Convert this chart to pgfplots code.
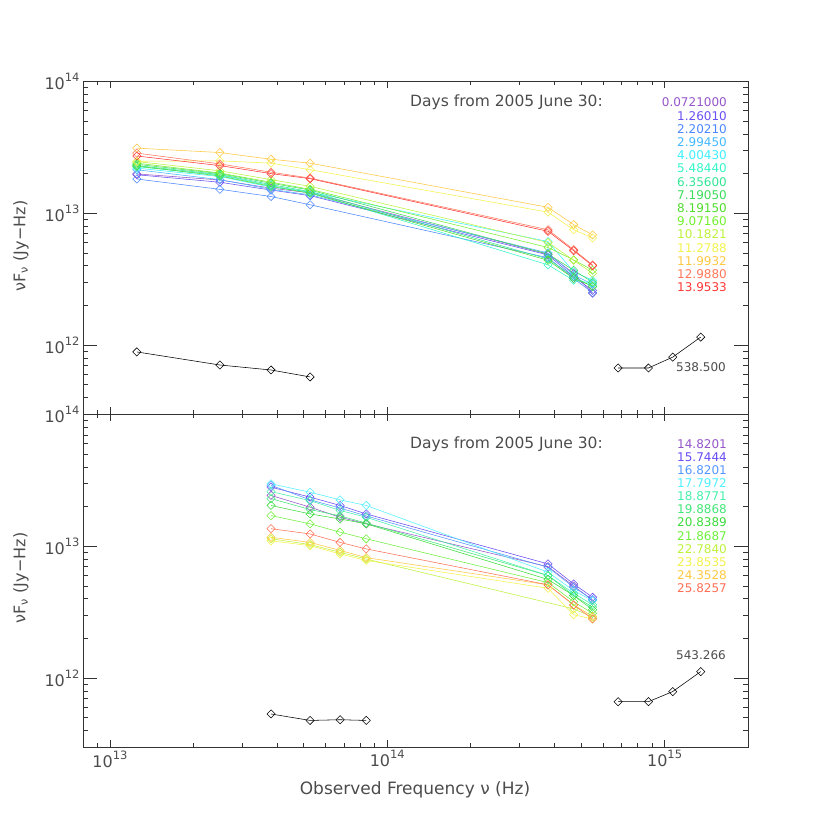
\documentclass[border=0pt]{standalone}
\usepackage{fontspec}
\setmainfont{DejaVu Sans}
\usepackage{pgfplots}
\pgfplotsset{compat=1.18}
\usepackage{graphicx}

\definecolor{c0}{RGB}{150,85,200}
\definecolor{c1}{RGB}{105,80,245}
\definecolor{c2}{RGB}{75,135,255}
\definecolor{c3}{RGB}{70,185,255}
\definecolor{c4}{RGB}{60,240,255}
\definecolor{c5}{RGB}{50,245,200}
\definecolor{c6}{RGB}{50,230,150}
\definecolor{c7}{RGB}{60,220,90}
\definecolor{c8}{RGB}{80,220,45}
\definecolor{c9}{RGB}{115,240,45}
\definecolor{c10}{RGB}{190,242,60}
\definecolor{c11}{RGB}{242,242,75}
\definecolor{c12}{RGB}{255,200,65}
\definecolor{c13}{RGB}{255,120,90}
\definecolor{c14}{RGB}{255,55,55}

\definecolor{d0}{RGB}{150,85,200}
\definecolor{d1}{RGB}{105,75,245}
\definecolor{d2}{RGB}{85,150,255}
\definecolor{d3}{RGB}{80,240,255}
\definecolor{d4}{RGB}{70,240,170}
\definecolor{d5}{RGB}{65,230,120}
\definecolor{d6}{RGB}{60,220,60}
\definecolor{d7}{RGB}{110,240,60}
\definecolor{d8}{RGB}{190,242,60}
\definecolor{d9}{RGB}{242,242,75}
\definecolor{d10}{RGB}{255,200,65}
\definecolor{d11}{RGB}{255,110,85}

\newcommand{\tp}[1]{10\raisebox{0.5em}{\fontsize{11.5}{12}\selectfont #1}}

\pgfplotsset{
  ser/.style={color=#1, line width=0.55pt, mark=square, mark size=2.9pt, mark options={rotate=45, solid}},
}

\begin{document}
\begin{tikzpicture}
\path[use as bounding box] (0pt,0pt) rectangle (830pt,830pt);

% ---------------- top panel ----------------
\begin{axis}[
    at={(83pt,416pt)}, anchor=south west,
    scale only axis, width=665pt, height=332.5pt,
    xmode=log, ymode=log,
    xmin=8e12, xmax=2e15, ymin=3e11, ymax=1e14,
    tick align=inside, major tick length=9pt, minor tick length=4.5pt,
    axis line style={black!80, line width=0.6pt},
    tick style={black!80, line width=0.6pt},
    xtick style={/pgfplots/major tick length=7pt, /pgfplots/minor tick length=3.5pt},
    ytick style={/pgfplots/major tick length=14pt, /pgfplots/minor tick length=5pt},
    xtick={1e13,1e14,1e15},
    xticklabels={},
    minor xtick={9e12,2e13,3e13,4e13,5e13,6e13,7e13,8e13,9e13,2e14,3e14,4e14,5e14,6e14,7e14,8e14,9e14,2e15},
    ytick={1e12,1e13,1e14},
    yticklabels={\tp{12},\tp{13},\tp{14}},
    minor ytick={4e11,5e11,6e11,7e11,8e11,9e11,2e12,3e12,4e12,5e12,6e12,7e12,8e12,9e12,2e13,3e13,4e13,5e13,6e13,7e13,8e13,9e13},
    ticklabel style={font=\fontsize{16}{16}\selectfont, text=black!70},
  ]
\addplot[ser=c0]  coordinates {(1.25e13,1.99e13) (2.49e13,1.79e13) (3.81e13,1.55e13) (5.27e13,1.43e13) (3.8e14,4.9e12) (4.7e14,3.5e12) (5.5e14,2.47e12)};
\addplot[ser=c1]  coordinates {(1.25e13,1.96e13) (2.49e13,1.72e13) (3.81e13,1.50e13) (5.27e13,1.36e13) (3.8e14,4.83e12) (4.7e14,3.3e12) (5.5e14,2.6e12)};
\addplot[ser=c2]  coordinates {(1.25e13,1.82e13) (2.49e13,1.52e13) (3.81e13,1.34e13) (5.27e13,1.16e13) (3.8e14,4.6e12) (4.7e14,3.2e12) (5.5e14,2.5e12)};
\addplot[ser=c3]  coordinates {(1.25e13,2.14e13) (2.49e13,1.80e13) (3.81e13,1.52e13) (5.27e13,1.38e13) (3.8e14,5.0e12) (4.7e14,3.4e12) (5.5e14,2.9e12)};
\addplot[ser=c4]  coordinates {(1.25e13,2.20e13) (2.49e13,1.90e13) (3.81e13,1.58e13) (5.27e13,1.45e13) (3.8e14,6.1e12) (4.7e14,3.6e12) (5.5e14,3.1e12)};
\addplot[ser=c5]  coordinates {(1.25e13,2.26e13) (2.49e13,1.95e13) (3.81e13,1.62e13) (5.27e13,1.44e13) (3.8e14,4.06e12) (4.7e14,3.1e12) (5.5e14,2.95e12)};
\addplot[ser=c6]  coordinates {(1.25e13,2.30e13) (2.49e13,1.97e13) (3.81e13,1.65e13) (5.27e13,1.46e13) (3.8e14,4.5e12) (4.7e14,3.3e12) (5.5e14,2.77e12)};
\addplot[ser=c7]  coordinates {(1.25e13,2.35e13) (2.49e13,2.00e13) (3.81e13,1.69e13) (5.27e13,1.50e13) (3.8e14,4.9e12) (4.7e14,3.7e12) (5.5e14,3.0e12)};
\addplot[ser=c8]  coordinates {(1.25e13,2.28e13) (2.49e13,1.92e13) (3.81e13,1.60e13) (5.27e13,1.42e13) (3.8e14,4.4e12) (4.7e14,3.2e12) (5.5e14,2.8e12)};
\addplot[ser=c9]  coordinates {(1.25e13,2.40e13) (2.49e13,2.02e13) (3.81e13,1.72e13) (5.27e13,1.52e13) (3.8e14,5.5e12) (4.7e14,4.43e12) (5.5e14,3.7e12)};
\addplot[ser=c10] coordinates {(1.25e13,2.47e13) (2.49e13,2.10e13) (3.81e13,1.80e13) (5.27e13,1.60e13) (3.8e14,6.0e12) (4.7e14,4.4e12) (5.5e14,3.5e12)};
\addplot[ser=c11] coordinates {(1.25e13,2.48e13) (2.49e13,2.50e13) (3.81e13,2.40e13) (5.27e13,2.14e13) (3.8e14,1.02e13) (4.7e14,7.5e12) (5.5e14,6.5e12)};
\addplot[ser=c12] coordinates {(1.25e13,3.12e13) (2.49e13,2.89e13) (3.81e13,2.57e13) (5.27e13,2.40e13) (3.8e14,1.11e13) (4.7e14,8.2e12) (5.5e14,6.85e12)};
\addplot[ser=c13] coordinates {(1.25e13,2.86e13) (2.49e13,2.37e13) (3.81e13,2.05e13) (5.27e13,1.85e13) (3.8e14,7.5e12) (4.7e14,5.3e12) (5.5e14,4.05e12)};
\addplot[ser=c14] coordinates {(1.25e13,2.72e13) (2.49e13,2.30e13) (3.81e13,2.00e13) (5.27e13,1.83e13) (3.8e14,7.3e12) (4.7e14,5.2e12) (5.5e14,4.0e12)};
\addplot[ser=black] coordinates {(1.25e13,8.87e11) (2.49e13,7.06e11) (3.81e13,6.47e11) (5.27e13,5.73e11)};
\addplot[ser=black] coordinates {(6.8e14,6.7e11) (8.75e14,6.7e11) (1.07e15,8.1e11) (1.35e15,1.15e12)};
\end{axis}

% ---------------- bottom panel ----------------
\begin{axis}[
    at={(83pt,83pt)}, anchor=south west,
    scale only axis, width=665pt, height=332.5pt,
    xmode=log, ymode=log,
    xmin=8e12, xmax=2e15, ymin=3e11, ymax=1e14,
    tick align=inside, major tick length=9pt, minor tick length=4.5pt,
    axis line style={black!80, line width=0.6pt},
    tick style={black!80, line width=0.6pt},
    xtick style={/pgfplots/major tick length=7pt, /pgfplots/minor tick length=3.5pt},
    ytick style={/pgfplots/major tick length=14pt, /pgfplots/minor tick length=5pt},
    xtick={1e13,1e14,1e15},
    xticklabels={\tp{13},\tp{14},\tp{15}},
    minor xtick={9e12,2e13,3e13,4e13,5e13,6e13,7e13,8e13,9e13,2e14,3e14,4e14,5e14,6e14,7e14,8e14,9e14,2e15},
    ytick={1e12,1e13,1e14},
    yticklabels={\tp{12},\tp{13},\tp{14}},
    minor ytick={4e11,5e11,6e11,7e11,8e11,9e11,2e12,3e12,4e12,5e12,6e12,7e12,8e12,9e12,2e13,3e13,4e13,5e13,6e13,7e13,8e13,9e13},
    ticklabel style={font=\fontsize{16}{16}\selectfont, text=black!70},
  ]
\addplot[ser=d0]  coordinates {(3.81e13,2.43e13) (5.27e13,1.98e13) (6.76e13,1.66e13) (8.4e13,1.48e13) (3.8e14,7.0e12) (4.7e14,5.0e12) (5.5e14,3.9e12)};
\addplot[ser=d1]  coordinates {(3.81e13,2.81e13) (5.27e13,2.36e13) (6.76e13,2.04e13) (8.4e13,1.76e13) (3.8e14,7.35e12) (4.7e14,5.18e12) (5.5e14,4.1e12)};
\addplot[ser=d2]  coordinates {(3.81e13,2.90e13) (5.27e13,2.25e13) (6.76e13,1.95e13) (8.4e13,1.70e13) (3.8e14,6.93e12) (4.7e14,4.89e12) (5.5e14,3.95e12)};
\addplot[ser=d3]  coordinates {(3.81e13,2.98e13) (5.27e13,2.57e13) (6.76e13,2.25e13) (8.4e13,2.04e13) (3.8e14,6.36e12) (4.7e14,4.61e12) (5.5e14,3.87e12)};
\addplot[ser=d4]  coordinates {(3.81e13,2.60e13) (5.27e13,2.22e13) (6.76e13,1.87e13) (8.4e13,1.66e13) (3.8e14,6.0e12) (4.7e14,4.4e12) (5.5e14,3.6e12)};
\addplot[ser=d5]  coordinates {(3.81e13,2.30e13) (5.27e13,1.90e13) (6.76e13,1.70e13) (8.4e13,1.50e13) (3.8e14,6.0e12) (4.7e14,4.23e12) (5.5e14,3.45e12)};
\addplot[ser=d6]  coordinates {(3.81e13,2.04e13) (5.27e13,1.76e13) (6.76e13,1.61e13) (8.4e13,1.48e13) (3.8e14,5.6e12) (4.7e14,4.23e12) (5.5e14,3.3e12)};
\addplot[ser=d7]  coordinates {(3.81e13,1.71e13) (5.27e13,1.48e13) (6.76e13,1.28e13) (8.4e13,1.14e13) (3.8e14,5.3e12) (4.7e14,3.8e12) (5.5e14,3.1e12)};
\addplot[ser=d8]  coordinates {(3.81e13,1.14e13) (5.27e13,1.03e13) (6.76e13,9.0e12) (8.4e13,8.0e12) (4.7e14,3.35e12) (5.5e14,2.9e12)};
\addplot[ser=d9]  coordinates {(3.81e13,1.10e13) (5.27e13,1.01e13) (6.76e13,8.75e12) (8.4e13,7.8e12) (3.8e14,4.8e12) (4.7e14,3.02e12) (5.5e14,2.81e12)};
\addplot[ser=d10] coordinates {(3.81e13,1.17e13) (5.27e13,1.07e13) (6.76e13,9.3e12) (8.4e13,8.2e12) (3.8e14,5.1e12) (4.7e14,3.59e12) (5.5e14,2.94e12)};
\addplot[ser=d11] coordinates {(3.81e13,1.36e13) (5.27e13,1.24e13) (6.76e13,1.07e13) (8.4e13,9.55e12) (3.8e14,5.1e12) (4.7e14,3.59e12) (5.5e14,2.81e12)};
\addplot[ser=black] coordinates {(3.81e13,5.34e11) (5.27e13,4.77e11) (6.76e13,4.83e11) (8.4e13,4.77e11)};
\addplot[ser=black] coordinates {(6.8e14,6.62e11) (8.75e14,6.62e11) (1.07e15,7.9e11) (1.35e15,1.12e12)};
\end{axis}

% ---------------- texts ----------------
\begin{scope}[x=1pt, y=1pt, every node/.style={inner sep=0pt}]
\node[anchor=west, font=\fontsize{15.5}{16}\selectfont, text=black!70] at (410,727.5) {Days from 2005 June 30:};
\node[anchor=west, font=\fontsize{15.5}{16}\selectfont, text=black!70] at (410,386) {Days from 2005 June 30:};
\foreach \c/\t [count=\i] in {c0/0.0721000,c1/1.26010,c2/2.20210,c3/2.99450,c4/4.00430,c5/5.48440,c6/6.35600,c7/7.19050,c8/8.19150,c9/9.07160,c10/10.1821,c11/11.2788,c12/11.9932,c13/12.9880,c14/13.9533}
  \node[anchor=east, text=\c, font=\fontsize{12}{12}\selectfont] at (727,{727.5-13.2*(\i-1)}) {\t};
\foreach \c/\t [count=\i] in {d0/14.8201,d1/15.7444,d2/16.8201,d3/17.7972,d4/18.8771,d5/19.8868,d6/20.8389,d7/21.8687,d8/22.7840,d9/23.8535,d10/24.3528,d11/25.8257}
  \node[anchor=east, text=\c, font=\fontsize{12}{12}\selectfont] at (727,{386-13.1*(\i-1)}) {\t};
\node[anchor=east, text=black!70, font=\fontsize{12}{12}\selectfont] at (726,463) {538.500};
\node[anchor=east, text=black!70, font=\fontsize{12}{12}\selectfont] at (726,175) {543.266};
\node[rotate=90, text=black!70, font=\fontsize{16}{16}\selectfont] at (21,584) {νF\textsubscript{ν} (Jy−Hz)};
\node[rotate=90, text=black!70, font=\fontsize{16}{16}\selectfont] at (21,252) {νF\textsubscript{ν} (Jy−Hz)};
\node[text=black!70, font=\fontsize{17}{17}\selectfont] at (415,40) {Observed Frequency ν (Hz)};
\end{scope}
\end{tikzpicture}
\end{document}
